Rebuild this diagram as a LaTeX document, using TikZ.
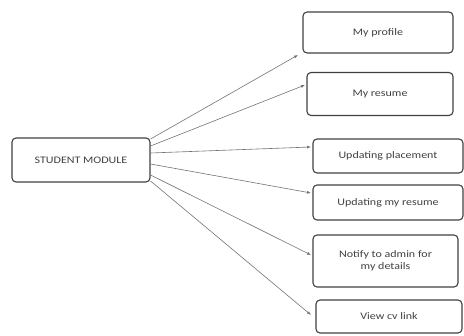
\documentclass[tikz,border=0pt]{standalone}
\usepackage{fontspec}
\setmainfont{Carlito}
\newfontfamily\widefont[FakeStretch=1.2]{Carlito}
\usetikzlibrary{arrows.meta}
\begin{document}
\begin{tikzpicture}[x=1pt,y=-1pt,
  box/.style={draw=black!75,line width=1.1pt,rounded corners=4pt,inner sep=0pt,
    font=\widefont\fontsize{10}{12.5}\selectfont,text=black!75,align=center},
  conn/.style={draw=black!55,line width=0.6pt,-{Latex[length=4pt,width=3pt]}}]
\useasboundingbox (0,0) rectangle (464,336);
\node[box,minimum width=138pt,minimum height=44pt] (sm) at (81,160) {STUDENT MODULE};
\node[box,minimum width=150pt,minimum height=41pt] (a) at (378,32.5) {My profile};
\node[box,minimum width=146pt,minimum height=43pt] (b) at (380,94) {My resume};
\node[box,minimum width=150pt,minimum height=34pt] (c) at (388,156) {Updating placement};
\node[box,minimum width=150pt,minimum height=35pt] (d) at (388,202.5) {Updating my resume};
\node[box,minimum width=145pt,minimum height=52pt] (e) at (385.5,261) {Notify to admin for\\my details};
\node[box,minimum width=146pt,minimum height=33pt] (f) at (389,316.5) {View cv link};
\coordinate (a1) at (298,55);
\coordinate (b1) at (305,85);
\coordinate (c1) at (311,147);
\coordinate (d1) at (311,193);
\coordinate (e1) at (311,255);
\coordinate (f1) at (311,315);
\draw[conn] ([yshift=21pt]sm.east) -- (a1);
\draw[conn] ([yshift=14pt]sm.east) -- (b1);
\draw[conn] ([yshift=7pt]sm.east) -- (c1);
\draw[conn] ([yshift=-4pt]sm.east) -- (d1);
\draw[conn] ([yshift=-15pt]sm.east) -- (e1);
\draw[conn] ([yshift=-21pt]sm.east) -- (f1);
\end{tikzpicture}
\end{document}
